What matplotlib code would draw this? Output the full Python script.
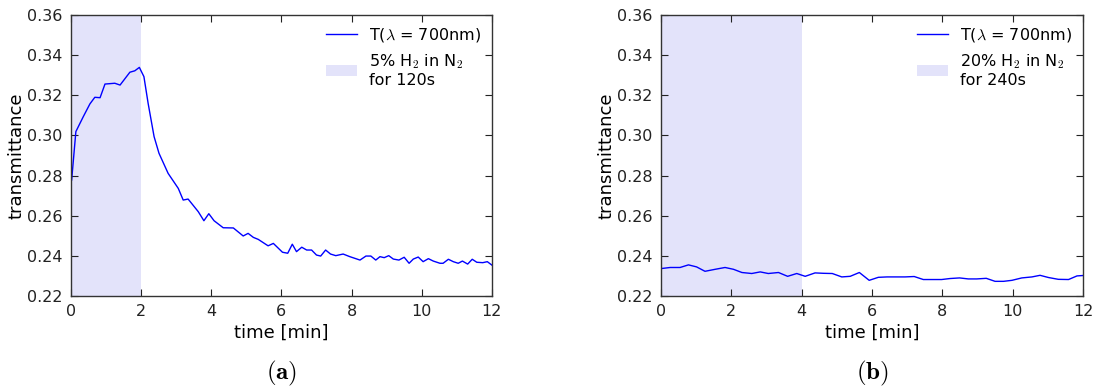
import matplotlib
matplotlib.use("Agg")
import matplotlib.pyplot as plt
from matplotlib.patches import Patch
from matplotlib.lines import Line2D

# Transmittance at 700 nm, 5% H2 exposure for 120 s
t_a = [0.02, 0.14, 0.35, 0.54, 0.68, 0.83, 0.97, 1.25, 1.40, 1.68, 1.82, 1.95,
       2.08, 2.20, 2.37, 2.51, 2.77, 3.06, 3.20, 3.34, 3.63, 3.79, 3.93, 4.08,
       4.34, 4.63, 4.91, 5.05, 5.20, 5.34, 5.62, 5.77, 6.03, 6.18, 6.31, 6.43,
       6.58, 6.72, 6.86, 7.00, 7.12, 7.26, 7.40, 7.55, 7.76, 7.95, 8.24, 8.41,
       8.55, 8.69, 8.81, 8.93, 9.06, 9.19, 9.35, 9.50, 9.64, 9.76, 9.90, 10.04,
       10.19, 10.33, 10.52, 10.61, 10.76, 10.90, 11.04, 11.16, 11.31, 11.44,
       11.57, 11.74, 11.87, 12.0]
T_a = [0.2778, 0.3019, 0.3093, 0.3157, 0.3190, 0.3188, 0.3256, 0.3260, 0.3251,
       0.3315, 0.3322, 0.3339, 0.3293, 0.3160, 0.2994, 0.2911, 0.2811, 0.2736,
       0.2678, 0.2683, 0.2620, 0.2575, 0.2610, 0.2575, 0.2540, 0.2539, 0.2499,
       0.2512, 0.2492, 0.2482, 0.2450, 0.2462, 0.2418, 0.2413, 0.2458, 0.2421,
       0.2443, 0.2429, 0.2429, 0.2404, 0.2399, 0.2429, 0.2409, 0.2401, 0.2409,
       0.2396, 0.2379, 0.2399, 0.2399, 0.2379, 0.2396, 0.2391, 0.2401, 0.2384,
       0.2379, 0.2393, 0.2363, 0.2384, 0.2394, 0.2371, 0.2386, 0.2374, 0.2363,
       0.2363, 0.2383, 0.2371, 0.2363, 0.2374, 0.2359, 0.2383, 0.2368, 0.2366,
       0.2371, 0.2354]

# Transmittance at 700 nm, 20% H2 exposure for 240 s
t_b = [0.02, 0.26, 0.54, 0.78, 1.01, 1.25, 1.54, 1.82, 2.06, 2.30, 2.58, 2.82,
       3.05, 3.34, 3.60, 3.86, 4.10, 4.38, 4.62, 4.87, 5.14, 5.38, 5.64, 5.92,
       6.18, 6.43, 6.66, 6.94, 7.20, 7.46, 7.75, 7.98, 8.22, 8.49, 8.74, 8.98,
       9.25, 9.50, 9.74, 9.98, 10.26, 10.55, 10.78, 11.02, 11.30, 11.59, 11.83,
       12.0]
T_b = [0.2337, 0.2342, 0.2342, 0.2355, 0.2345, 0.2323, 0.2333, 0.2342, 0.2333,
       0.2317, 0.2312, 0.2320, 0.2312, 0.2317, 0.2298, 0.2312, 0.2298, 0.2315,
       0.2313, 0.2312, 0.2295, 0.2298, 0.2317, 0.2278, 0.2293, 0.2295, 0.2295,
       0.2295, 0.2297, 0.2282, 0.2282, 0.2282, 0.2287, 0.2290, 0.2285, 0.2285,
       0.2288, 0.2273, 0.2273, 0.2278, 0.2290, 0.2295, 0.2303, 0.2292, 0.2283,
       0.2282, 0.2300, 0.2302]

exposure_min = [2.0, 4.0]
gas_labels = ["5% H$_2$ in N$_2$\nfor 120s", "20% H$_2$ in N$_2$\nfor 240s"]
panel_labels = [r"$\mathbf{(a)}$", r"$\mathbf{(b)}$"]
line_label = r"T($\lambda$ = 700nm)"

xticks = [0, 2, 4, 6, 8, 10, 12]
yticks = [0.22, 0.24, 0.26, 0.28, 0.30, 0.32, 0.34, 0.36]

plt.rcParams["mathtext.fontset"] = "cm"
plt.rcParams["font.family"] = "DejaVu Sans"

fig = plt.figure(figsize=(10.95, 3.91), dpi=100)
axes = [fig.add_axes([0.0648, 0.243, 0.3844, 0.7186]),
        fig.add_axes([0.6037, 0.243, 0.3853, 0.7186])]

span_color = "#e3e3fa"
line_color = "#0000ff"

for ax, t, T, tx, glab, plab in zip(axes, [t_a, t_b], [T_a, T_b], exposure_min,
                                     gas_labels, panel_labels):
    ax.axvspan(0, tx, color=span_color, lw=0)
    ax.plot(t, T, color=line_color, lw=1.0)
    ax.set_xlim(0, 12)
    ax.set_ylim(0.22, 0.36)
    ax.set_xticks(xticks)
    ax.set_yticks(yticks)
    ax.set_yticklabels([f"{v:.2f}" for v in yticks])
    ax.tick_params(direction="in", top=True, right=True, length=5, width=0.8,
                   labelsize=11.5, pad=6, colors="#222222")
    for s in ax.spines.values():
        s.set_linewidth(1.0)
        s.set_color("#333333")
    ax.set_xlabel("time [min]", fontsize=13, labelpad=3)
    ax.set_ylabel("transmittance", fontsize=13, labelpad=1)
    handles = [Line2D([], [], color=line_color, lw=1.0),
               Patch(facecolor=span_color, edgecolor="none")]
    ax.legend(handles, [line_label, glab], loc="upper right", frameon=False,
              fontsize=11.5, handlelength=1.9, handletextpad=0.75,
              borderaxespad=0.3, labelspacing=0.5)
    ax.text(0.5, -0.274, plab, transform=ax.transAxes, ha="center",
            va="center", fontsize=18)

fig.savefig("out.png", dpi=100, facecolor="white")
